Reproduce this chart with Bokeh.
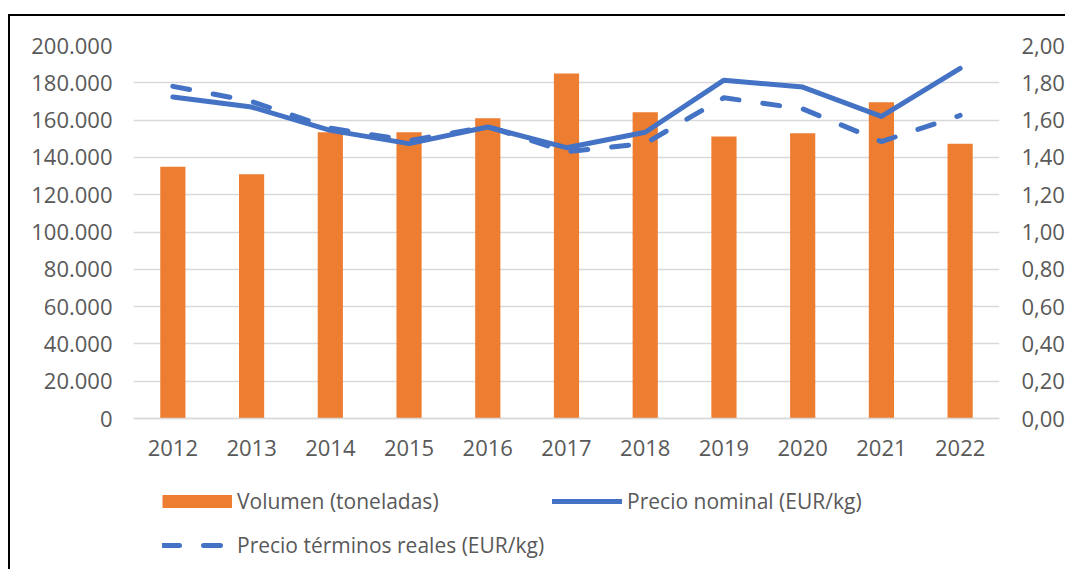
from bokeh.plotting import figure
from bokeh.models import (FactorRange, Range1d, LinearAxis, FixedTicker, Legend, LegendItem,
                          ColumnDataSource)
from bokeh.embed import file_html
from bokeh.resources import INLINE

# ---- data ----
years = ["2012", "2013", "2014", "2015", "2016", "2017", "2018", "2019", "2020", "2021", "2022"]
volumen = [135000, 131000, 153500, 153500, 161000, 185000, 164200, 151200, 153000, 169600, 147300]
precio_nominal = [1.724, 1.670, 1.545, 1.474, 1.563, 1.452, 1.535, 1.814, 1.777, 1.620, 1.877]
precio_real = [1.781, 1.700, 1.557, 1.490, 1.565, 1.430, 1.475, 1.720, 1.660, 1.485, 1.625]

left_ticks = [0, 20000, 40000, 60000, 80000, 100000, 120000, 140000, 160000, 180000, 200000]
left_labels = ["0", "20.000", "40.000", "60.000", "80.000", "100.000", "120.000",
               "140.000", "160.000", "180.000", "200.000"]
right_ticks = [0.0, 0.2, 0.4, 0.6, 0.8, 1.0, 1.2, 1.4, 1.6, 1.8, 2.0]
right_labels = ["0,00", "0,20", "0,40", "0,60", "0,80", "1,00", "1,20", "1,40", "1,60", "1,80", "2,00"]

label_vol = "Volumen (toneladas)"
label_nom = "Precio nominal (EUR/kg)"
label_real = "Precio términos reales (EUR/kg)"

ORANGE = "#ED7D31"
BLUE = "#4472C4"
GRID = "#D9D9D9"
TEXT = "#595959"
FONT = "Open Sans"

# ---- layout geometry (pixels) ----
W, H = 1057, 555
TOP, LEFT, RIGHT = 29, 123, 68
PLOT_H = 373          # pixels between 0 and the top value
BELOW_ZERO = H - TOP - PLOT_H   # frame extends below zero to host the legend
vmax, pmax = 200000, 2.0
vmin = -vmax * BELOW_ZERO / PLOT_H
pmin = -pmax * BELOW_ZERO / PLOT_H

src = ColumnDataSource(dict(year=years, vol=volumen, nom=precio_nominal, real=precio_real))

p = figure(width=W, height=H, x_range=FactorRange(*years, range_padding=0),
           y_range=Range1d(vmin, vmax), output_backend="svg", toolbar_location=None,
           min_border_left=LEFT, min_border_right=RIGHT, min_border_top=TOP, min_border_bottom=0)
p.styles = {"transform": "translate(10px, 16px)", "box-shadow": "-2px -2px 0 0 #000000"}
p.outline_line_color = None
p.background_fill_color = "white"
p.border_fill_color = "white"

p.extra_y_ranges = {"price": Range1d(pmin, pmax)}

bars = p.vbar(x="year", top="vol", width=0.32, source=src, fill_color=ORANGE, line_color=None)
nom = p.line(x="year", y="nom", source=src, y_range_name="price", line_color=BLUE,
             line_width=5, line_join="round", line_cap="round")
real = p.line(x="year", y="real", source=src, y_range_name="price", line_color=BLUE,
              line_width=5, line_join="round", line_cap="round", line_dash="17 24")

# legend proxy for the bars: a thick orange line with no drawable point
proxy = p.line(x=years[:1], y=[float("nan")], line_color=ORANGE, line_width=13, line_cap="butt")

# axes styling
p.xgrid.grid_line_color = None
p.ygrid.grid_line_color = GRID
p.ygrid.grid_line_width = 1.5
p.ygrid.ticker = FixedTicker(ticks=left_ticks)

xa = p.xaxis[0]
xa.fixed_location = 0
yl = p.yaxis[0]
yl.ticker = FixedTicker(ticks=left_ticks)
yl.major_label_overrides = {t: l for t, l in zip(left_ticks, left_labels)}
yr = LinearAxis(y_range_name="price", ticker=FixedTicker(ticks=right_ticks))
yr.major_label_overrides = {t: l for t, l in zip(right_ticks, right_labels)}
p.add_layout(yr, "right")

for ax in [xa, yl, yr]:
    ax.axis_line_color = None
    ax.major_tick_line_color = None
    ax.minor_tick_line_color = None
    ax.major_tick_out = 0
    ax.major_tick_in = 0
    ax.major_label_text_font = FONT
    ax.major_label_text_font_size = "22px"
    ax.major_label_text_color = TEXT
xa.axis_line_color = GRID
xa.axis_line_width = 1.5
yl.major_label_standoff = 21
yr.major_label_standoff = 22
xa.major_label_standoff = 21

legend = Legend(items=[
    LegendItem(label=label_vol, renderers=[proxy]),
    LegendItem(label=label_real, renderers=[real]),
    LegendItem(label=label_nom, renderers=[nom]),
], ncols=2, location=(29, 8), glyph_width=70, glyph_height=14, label_standoff=5,
    label_height=36, spacing=8, padding=0, margin=0, border_line_color=None,
    background_fill_alpha=0,
    label_text_font=FONT, label_text_font_size="21px", label_text_color=TEXT)
p.add_layout(legend, "center")

open("out.html", "w").write(file_html(p, INLINE))
